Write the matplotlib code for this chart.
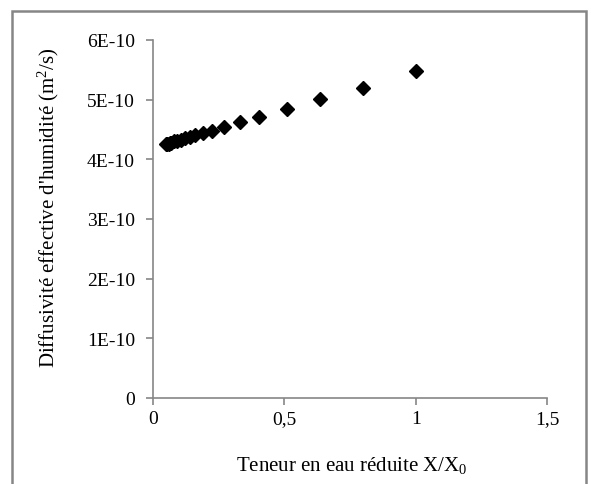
import matplotlib.pyplot as plt
from matplotlib.patches import Rectangle

plt.rcParams['font.family'] = 'Liberation Serif'
plt.rcParams['mathtext.fontset'] = 'custom'
plt.rcParams['mathtext.rm'] = 'Liberation Serif'
plt.rcParams['mathtext.it'] = 'Liberation Serif'

# X/X0 (reduced moisture content) and effective diffusivity (m2/s)
teneur = [1.0, 0.80, 0.635, 0.51, 0.405, 0.33, 0.27, 0.225, 0.19, 0.16,
          0.14, 0.12, 0.105, 0.09, 0.08, 0.07, 0.065, 0.06, 0.055, 0.05]
diffusivite = [5.48e-10, 5.20e-10, 5.01e-10, 4.84e-10, 4.71e-10, 4.63e-10,
               4.54e-10, 4.48e-10, 4.44e-10, 4.41e-10, 4.38e-10, 4.35e-10,
               4.33e-10, 4.31e-10, 4.30e-10, 4.28e-10, 4.27e-10, 4.26e-10,
               4.25e-10, 4.25e-10]

x_ticks = [0, 0.5, 1, 1.5]
x_labels = ['0', '0,5', '1', '1,5']
y_ticks = [0, 1e-10, 2e-10, 3e-10, 4e-10, 5e-10, 6e-10]
y_labels = ['0', '1E-10', '2E-10', '3E-10', '4E-10', '5E-10', '6E-10']

gris = '#868686'

fig = plt.figure(figsize=(5.91, 4.85), dpi=100)
ax = fig.add_axes([153/591, 1-399/485, (547-153)/591, (399-41)/485])

ax.plot(teneur, diffusivite, linestyle='none', marker='D', markersize=7.5,
        color='black')

ax.set_xlim(0, 1.5)
ax.set_ylim(0, 6e-10)
ax.set_xticks(x_ticks)
ax.set_xticklabels(x_labels)
ax.set_yticks(y_ticks)
ax.set_yticklabels(y_labels)

for s in ['top', 'right']:
    ax.spines[s].set_visible(False)
for s in ['left', 'bottom']:
    ax.spines[s].set_color(gris)
    ax.spines[s].set_linewidth(1.2)
ax.tick_params(direction='out', length=5, width=1.2, color=gris,
               labelsize=14)
ax.tick_params(axis='x', pad=4)
ax.tick_params(axis='y', pad=8)

fig.text(352/591, 1-466/485, 'Teneur en eau réduite X/X$_0$',
         ha='center', va='center', fontsize=15)
fig.text(48/591, 1-208/485, "Diffusivité effective d'humidité (m$^2$/s)",
         ha='center', va='center', rotation=90, fontsize=15)

# outer frame
fig.patches.append(Rectangle((12/591, -0.05), (586-12)/591, 1.05 - 12/485,
                             transform=fig.transFigure, fill=False,
                             edgecolor=gris, linewidth=1.8))

fig.savefig('out.png', dpi=100)
